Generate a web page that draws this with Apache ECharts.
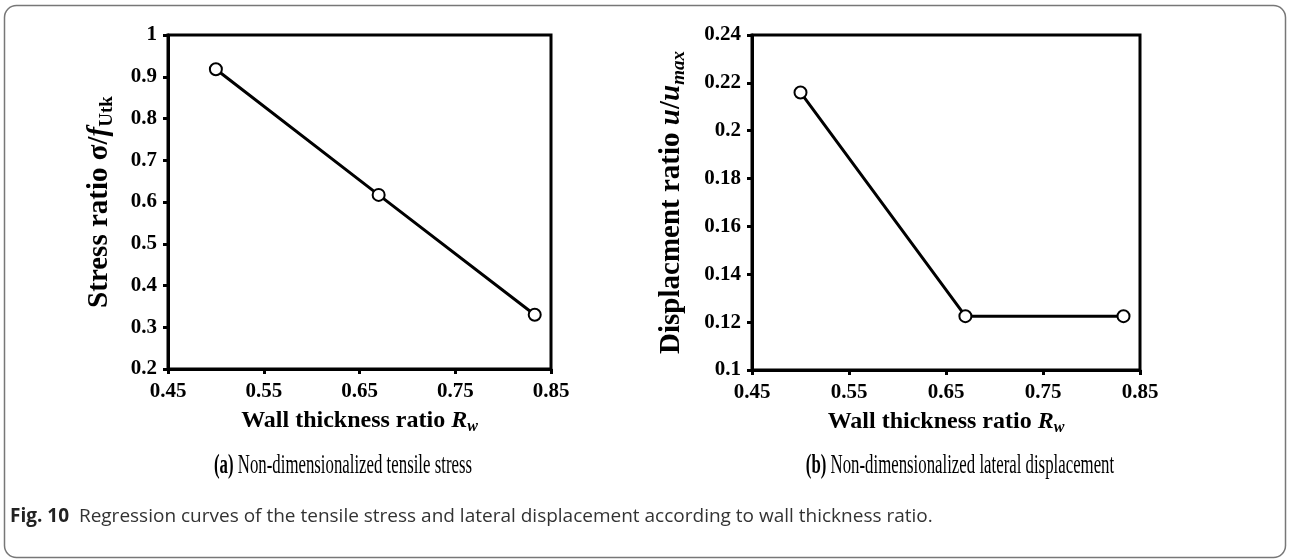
<!DOCTYPE html>
<html>
<head>
<meta charset="utf-8">
<script src="https://cdn.jsdelivr.net/npm/echarts@6/dist/echarts.min.js"></script>
<style>
html,body{margin:0;padding:0;background:#fff;}
#c{width:1290px;height:560px;}
</style>
</head>
<body>
<div id="c"></div>
<script>
// ---- data ----
const wallRatio = [0.5, 0.67, 0.833];
const stressRatio = [0.918, 0.617, 0.33];
const dispRatio = [0.216, 0.1225, 0.1225];
const xTicks = [0.45, 0.55, 0.65, 0.75, 0.85];
const stressTicks = [0.2, 0.3, 0.4, 0.5, 0.6, 0.7, 0.8, 0.9, 1];
const dispTicks = [0.1, 0.12, 0.14, 0.16, 0.18, 0.2, 0.22, 0.24];
const subtitleA = ['(a)', ' Non-dimensionalized tensile stress'];
const subtitleB = ['(b)', ' Non-dimensionalized lateral displacement'];
const captionBold = 'Fig. 10';
const captionText = 'Regression curves of the tensile stress and lateral displacement according to wall thickness ratio.';

const SERIF = '"Liberation Serif","Times New Roman",serif';
const SANS = '"Open Sans","Noto Sans",sans-serif';
const chart = echarts.init(document.getElementById('c'), null, {renderer: 'canvas'});

function rich(size, subSize, pad) {
  return {
    b: {fontFamily: SERIF, fontWeight: 'bold', fontSize: size, color: '#000'},
    bi: {fontFamily: SERIF, fontWeight: 'bold', fontStyle: 'italic', fontSize: size, color: '#000'},
    sub: {fontFamily: SERIF, fontWeight: 'bold', fontSize: subSize, color: '#000', padding: [pad, 0, 0, 0]},
    subi: {fontFamily: SERIF, fontWeight: 'bold', fontStyle: 'italic', fontSize: subSize, color: '#000', padding: [pad, 0, 0, 0]}
  };
}

function xAxisCfg(gi) {
  return {
    type: 'value', gridIndex: gi, min: xTicks[0], max: xTicks[xTicks.length - 1], interval: 0.1,
    name: '{b|Wall thickness ratio }{bi|R}{subi|w}',
    nameLocation: 'middle', nameGap: 37,
    nameTextStyle: {rich: rich(24, 16, 13)},
    axisLine: {lineStyle: {color: '#000', width: 3}},
    axisTick: {show: true, inside: false, length: 5, lineStyle: {color: '#000', width: 3}},
    axisLabel: {fontFamily: SERIF, fontWeight: 'bold', fontSize: 21, color: '#000', margin: 12,
      formatter: v => v.toFixed(2)},
    splitLine: {show: false}
  };
}
function yAxisCfg(gi, ticks, name, gap, dec) {
  return {
    type: 'value', gridIndex: gi, min: ticks[0], max: ticks[ticks.length - 1],
    interval: +(ticks[1] - ticks[0]).toFixed(4),
    name: name, nameLocation: 'middle', nameGap: gap, nameRotate: 90,
    nameTextStyle: {rich: rich(29, 19, 15)},
    axisLine: {lineStyle: {color: '#000', width: 3}},
    axisTick: {show: true, inside: false, length: 5, lineStyle: {color: '#000', width: 3}},
    axisLabel: {fontFamily: SERIF, fontWeight: 'bold', fontSize: 21, color: '#000', margin: 11,
      formatter: v => String(+v.toFixed(dec))},
    splitLine: {show: false}
  };
}
function seriesCfg(gi, ys) {
  return {
    type: 'line', xAxisIndex: gi, yAxisIndex: gi,
    data: wallRatio.map((x, i) => [x, ys[i]]),
    symbol: 'circle', symbolSize: 12,
    lineStyle: {color: '#000', width: 3},
    itemStyle: {color: '#fff', borderColor: '#000', borderWidth: 2},
    z: 5, silent: true, animation: false
  };
}
function subtitle(x, y, parts) {
  return {type: 'text', x: x, y: y, scaleX: 0.6, scaleY: 1, silent: true, style: {
    text: '{b|' + parts[0] + '}{n|' + parts[1] + '}', align: 'center', verticalAlign: 'middle',
    rich: {b: {fontFamily: SERIF, fontWeight: 'bold', fontSize: 28, fill: '#000'},
           n: {fontFamily: SERIF, fontSize: 28, fill: '#000'}}
  }};
}

chart.setOption({
  backgroundColor: '#fff',
  animation: false,
  grid: [
    {left: 168, top: 35, width: 383, height: 334, show: true, borderColor: '#000', borderWidth: 3, backgroundColor: 'transparent'},
    {left: 752, top: 35, width: 388, height: 335, show: true, borderColor: '#000', borderWidth: 3, backgroundColor: 'transparent'}
  ],
  xAxis: [xAxisCfg(0), xAxisCfg(1)],
  yAxis: [
    yAxisCfg(0, stressTicks, '{b|Stress ratio σ/}{bi|f}{sub|Utk}', 51, 1),
    yAxisCfg(1, dispTicks, '{b|Displacment ratio }{bi|u}{b|/}{bi|u}{subi|max}', 63, 2)
  ],
  series: [seriesCfg(0, stressRatio), seriesCfg(1, dispRatio)],
  graphic: [
    {type: 'rect', silent: true, shape: {x: 4.5, y: 5.5, width: 1281, height: 552, r: 12}, style: {fill: 'none', stroke: '#777', lineWidth: 1.5}},
    subtitle(343, 466, subtitleA),
    subtitle(960, 466, subtitleB),
    {type: 'text', x: 10, y: 517, silent: true, style: {
      text: '{b|' + captionBold + '}{n|  ' + captionText + '}', align: 'left', verticalAlign: 'middle',
      rich: {b: {fontFamily: SANS, fontWeight: 'bold', fontSize: 19, fill: '#222'},
             n: {fontFamily: SANS, fontSize: 19, fill: '#333'}}
    }}
  ]
});
</script>
</body>
</html>
